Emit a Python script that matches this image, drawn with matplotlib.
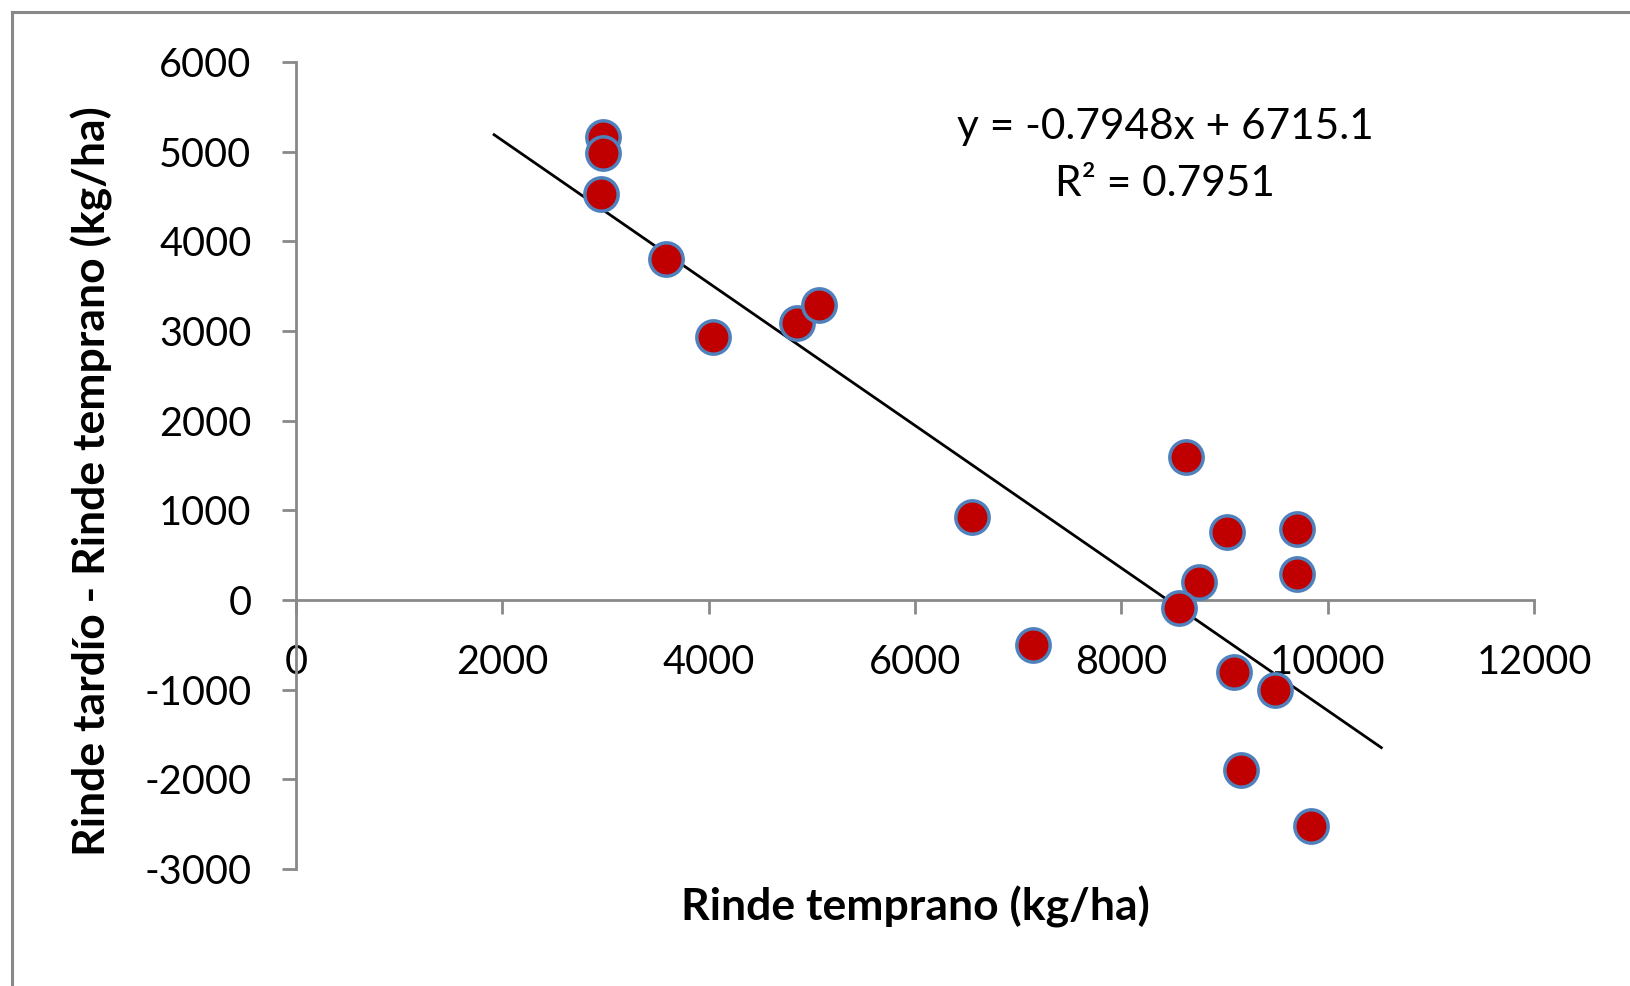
import numpy as np
import matplotlib.pyplot as plt
from matplotlib.lines import Line2D

plt.rcParams['font.family'] = ['Lato', 'DejaVu Sans']
plt.rcParams['axes.unicode_minus'] = False

# datos
rinde_temprano = [2975, 2975, 2955, 3590, 4044, 4860, 5072, 6554, 7139, 8622,
                  9025, 8753, 8561, 9700, 9700, 9095, 9489, 9156, 9842]
diferencia = [5163, 4988, 4523, 3802, 2930, 3093, 3291, 930, -500, 1593,
              756, 198, -93, 791, 291, -802, -1000, -1895, -2523]

# linea de tendencia (Excel)
pend = -0.7948
orden = 6715.1
x_lin = [1920, 10520]

xticks = [0, 2000, 4000, 6000, 8000, 10000, 12000]
yticks = [-3000, -2000, -1000, 0, 1000, 2000, 3000, 4000, 5000, 6000]

gris = '#898989'

fig = plt.figure(figsize=(16.3, 9.86), dpi=100)
ax = fig.add_axes([296 / 1630, 1 - 869 / 986, (1534 - 296) / 1630, (869 - 62) / 986])

x_lin = np.array(x_lin)
ax.plot(x_lin, pend * x_lin + orden, color='black', lw=2.0, zorder=2)
ax.scatter(rinde_temprano, diferencia, s=24 ** 2, c='#C00000',
           edgecolors='#4F81BD', linewidths=2.5, zorder=3, clip_on=False)

ax.set_xlim(0, 12000)
ax.set_ylim(-3000, 6000)
ax.set_xticks(xticks)
ax.set_yticks(yticks)

for s in ['top', 'right']:
    ax.spines[s].set_visible(False)
ax.spines['bottom'].set_position(('data', 0))
ax.spines['left'].set_position(('data', 0))
for s in ['bottom', 'left']:
    ax.spines[s].set_color(gris)
    ax.spines[s].set_linewidth(2)
ax.tick_params(axis='both', direction='out', length=10, width=2, color=gris,
               labelsize=28.5, labelcolor='black')
ax.tick_params(axis='x', pad=22)
ax.tick_params(axis='y', pad=22)

fig.text(880 * 1.04 / 1630, 1 - 907 / 986, 'Rinde temprano (kg/ha)', fontsize=32,
         fontweight='bold', ha='center', va='center')
fig.text(92 / 1630, 1 - 481 / 986, 'Rinde tardío - Rinde temprano (kg/ha)',
         fontsize=32, fontweight='bold', ha='center', va='center', rotation=90)

fig.text(1165 / 1630, 1 - 127 / 986, 'y = -0.7948x + 6715.1', fontsize=30.5,
         ha='center', va='center')
fig.text(1165 / 1630, 1 - 184 / 986, 'R² = 0.7951', fontsize=30.5,
         ha='center', va='center')

# marco del grafico
fig.add_artist(Line2D([12 / 1630, 12 / 1630], [0, 1 - 12 / 986],
                      transform=fig.transFigure, color=gris, lw=2.2))
fig.add_artist(Line2D([12 / 1630, 1], [1 - 12 / 986, 1 - 12 / 986],
                      transform=fig.transFigure, color=gris, lw=2.2))

fig.savefig('out.png', dpi=100)
